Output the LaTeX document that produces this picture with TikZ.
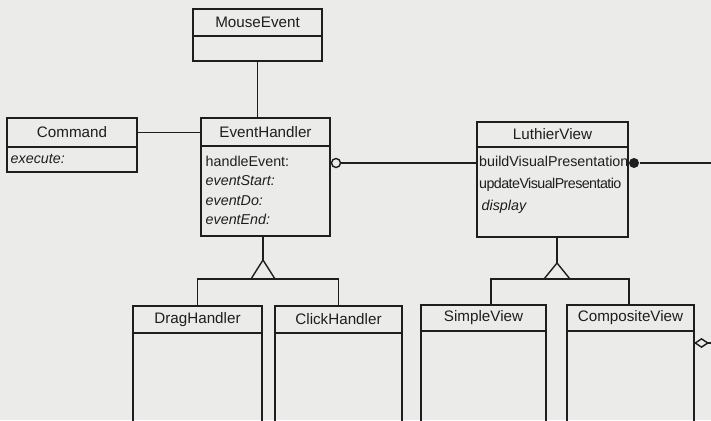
\documentclass[tikz,border=0pt]{standalone}
\usepackage{fontspec}
\setmainfont{Liberation Sans}
\usetikzlibrary{arrows.meta}
\definecolor{bg}{HTML}{EBEBEA}
\definecolor{ink}{HTML}{1E1E1E}
\begin{document}
\begin{tikzpicture}[x=1pt,y=-1pt, line width=1.4pt, draw=ink, text=ink,
  hdr/.style={draw=ink, rectangle, inner sep=0pt, outer sep=0pt, font=\fontsize{15.2}{17}\selectfont},
  bdy/.style={draw=ink, rectangle, inner sep=0pt, outer sep=0pt, anchor=north},
  attr/.style={anchor=west, inner sep=0pt, text height=10pt, text depth=3pt, font=\fontsize{14.3}{16}\selectfont},
  iattr/.style={attr, font=\fontsize{14.3}{16}\selectfont\itshape},
  tattr/.style={attr, font=\fontsize{14.3}{16}\selectfont\addfontfeature{LetterSpace=-4}}]
\clip (0,0) rectangle (711,420);
\fill[bg] (0,0) rectangle (711,420);

% MouseEvent
\node[hdr, minimum width=129pt, minimum height=27pt] (me) at (257.5,22.5) {MouseEvent};
\node[bdy, minimum width=129pt, minimum height=25pt] (meb) at (me.south) {};

% Command
\node[hdr, minimum width=130pt, minimum height=29pt] (cmd) at (72,132.5) {Command};
\node[bdy, minimum width=130pt, minimum height=25pt] (cmdb) at (cmd.south) {};
\node[iattr] (exe) at (10,160) {execute:};

% EventHandler
\node[hdr, minimum width=129pt, minimum height=28pt] (eh) at (265.5,132) {EventHandler};
\node[bdy, minimum width=129pt, minimum height=90pt] (ehb) at (eh.south) {};
\node[attr]  (ha) at (205,163) {handleEvent:};
\node[iattr] (es) at (205,182) {eventStart:};
\node[iattr] (ed) at (205,202) {eventDo:};
\node[iattr] (ee) at (205,221) {eventEnd:};

% LuthierView
\node[hdr, minimum width=151pt, minimum height=25pt] (lv) at (552.5,134.5) {LuthierView};
\node[bdy, minimum width=151pt, minimum height=90pt] (lvb) at (lv.south) {};
\node[attr]  (bvp) at (478.5,163) {buildVisualPresentation};
\node[tattr] (uvp) at (478.5,185) {updateVisualPresentatio};
\node[iattr] (dsp) at (481,207) {display};

% subclasses
\node[hdr, minimum width=129pt, minimum height=27pt] (dh) at (197.5,319.5) {DragHandler};
\node[bdy, minimum width=129pt, minimum height=100pt] (dhb) at (dh.south) {};
\node[hdr, minimum width=127pt, minimum height=27pt] (ch) at (338.5,319.5) {ClickHandler};
\node[bdy, minimum width=127pt, minimum height=100pt] (chb) at (ch.south) {};
\node[hdr, minimum width=125pt, minimum height=26pt] (sv) at (483.5,318) {SimpleView};
\node[bdy, minimum width=125pt, minimum height=100pt] (svb) at (sv.south) {};
\node[hdr, minimum width=127pt, minimum height=26pt] (cv) at (630.5,318) {CompositeView};
\node[bdy, minimum width=127pt, minimum height=100pt] (cvb) at (cv.south) {};

% associations
\draw (meb.south) -- (meb.south |- eh.north);
\draw (cmd.east) -- (cmd.east -| eh.west);
\node[circle, draw=ink, fill=bg, inner sep=0pt, minimum size=9pt] (oc) at (336,163) {};
\draw (oc.east) -- (oc.east -| lvb.west);
\node[circle, fill=ink, inner sep=0pt, minimum size=10pt] (fc) at (634,163) {};
\coordinate (rEdge) at (711,163);
\draw (fc.east) -- (rEdge);

% inheritance EventHandler
\coordinate (ehApex) at (263,260);
\coordinate (ehBar) at (263,279);
\draw (ehApex |- ehb.south) -- (ehApex);
\draw[fill=bg, line join=miter] (ehApex) -- ++(-12,19) -- ++(24,0) -- cycle;
\draw (dh.north) |- (ehBar) -| (ch.north);

% inheritance LuthierView
\coordinate (lvApex) at (557,263);
\coordinate (svJ) at (491,279);
\coordinate (cvJ) at (629,279);
\draw (lvApex |- lvb.south) -- (lvApex);
\draw[fill=bg, line join=miter] (lvApex) -- ++(-13,16) -- ++(26,0) -- cycle;
\draw (svJ |- sv.north) |- (cvJ) -- (cvJ |- cv.north);

% aggregation diamond
\coordinate (dmd) at (694,343);
\coordinate (dEnd) at (713,343);
\draw[{Diamond[open, length=15pt, width=10pt]}-] (dmd) -- (dEnd);
\end{tikzpicture}
\end{document}
